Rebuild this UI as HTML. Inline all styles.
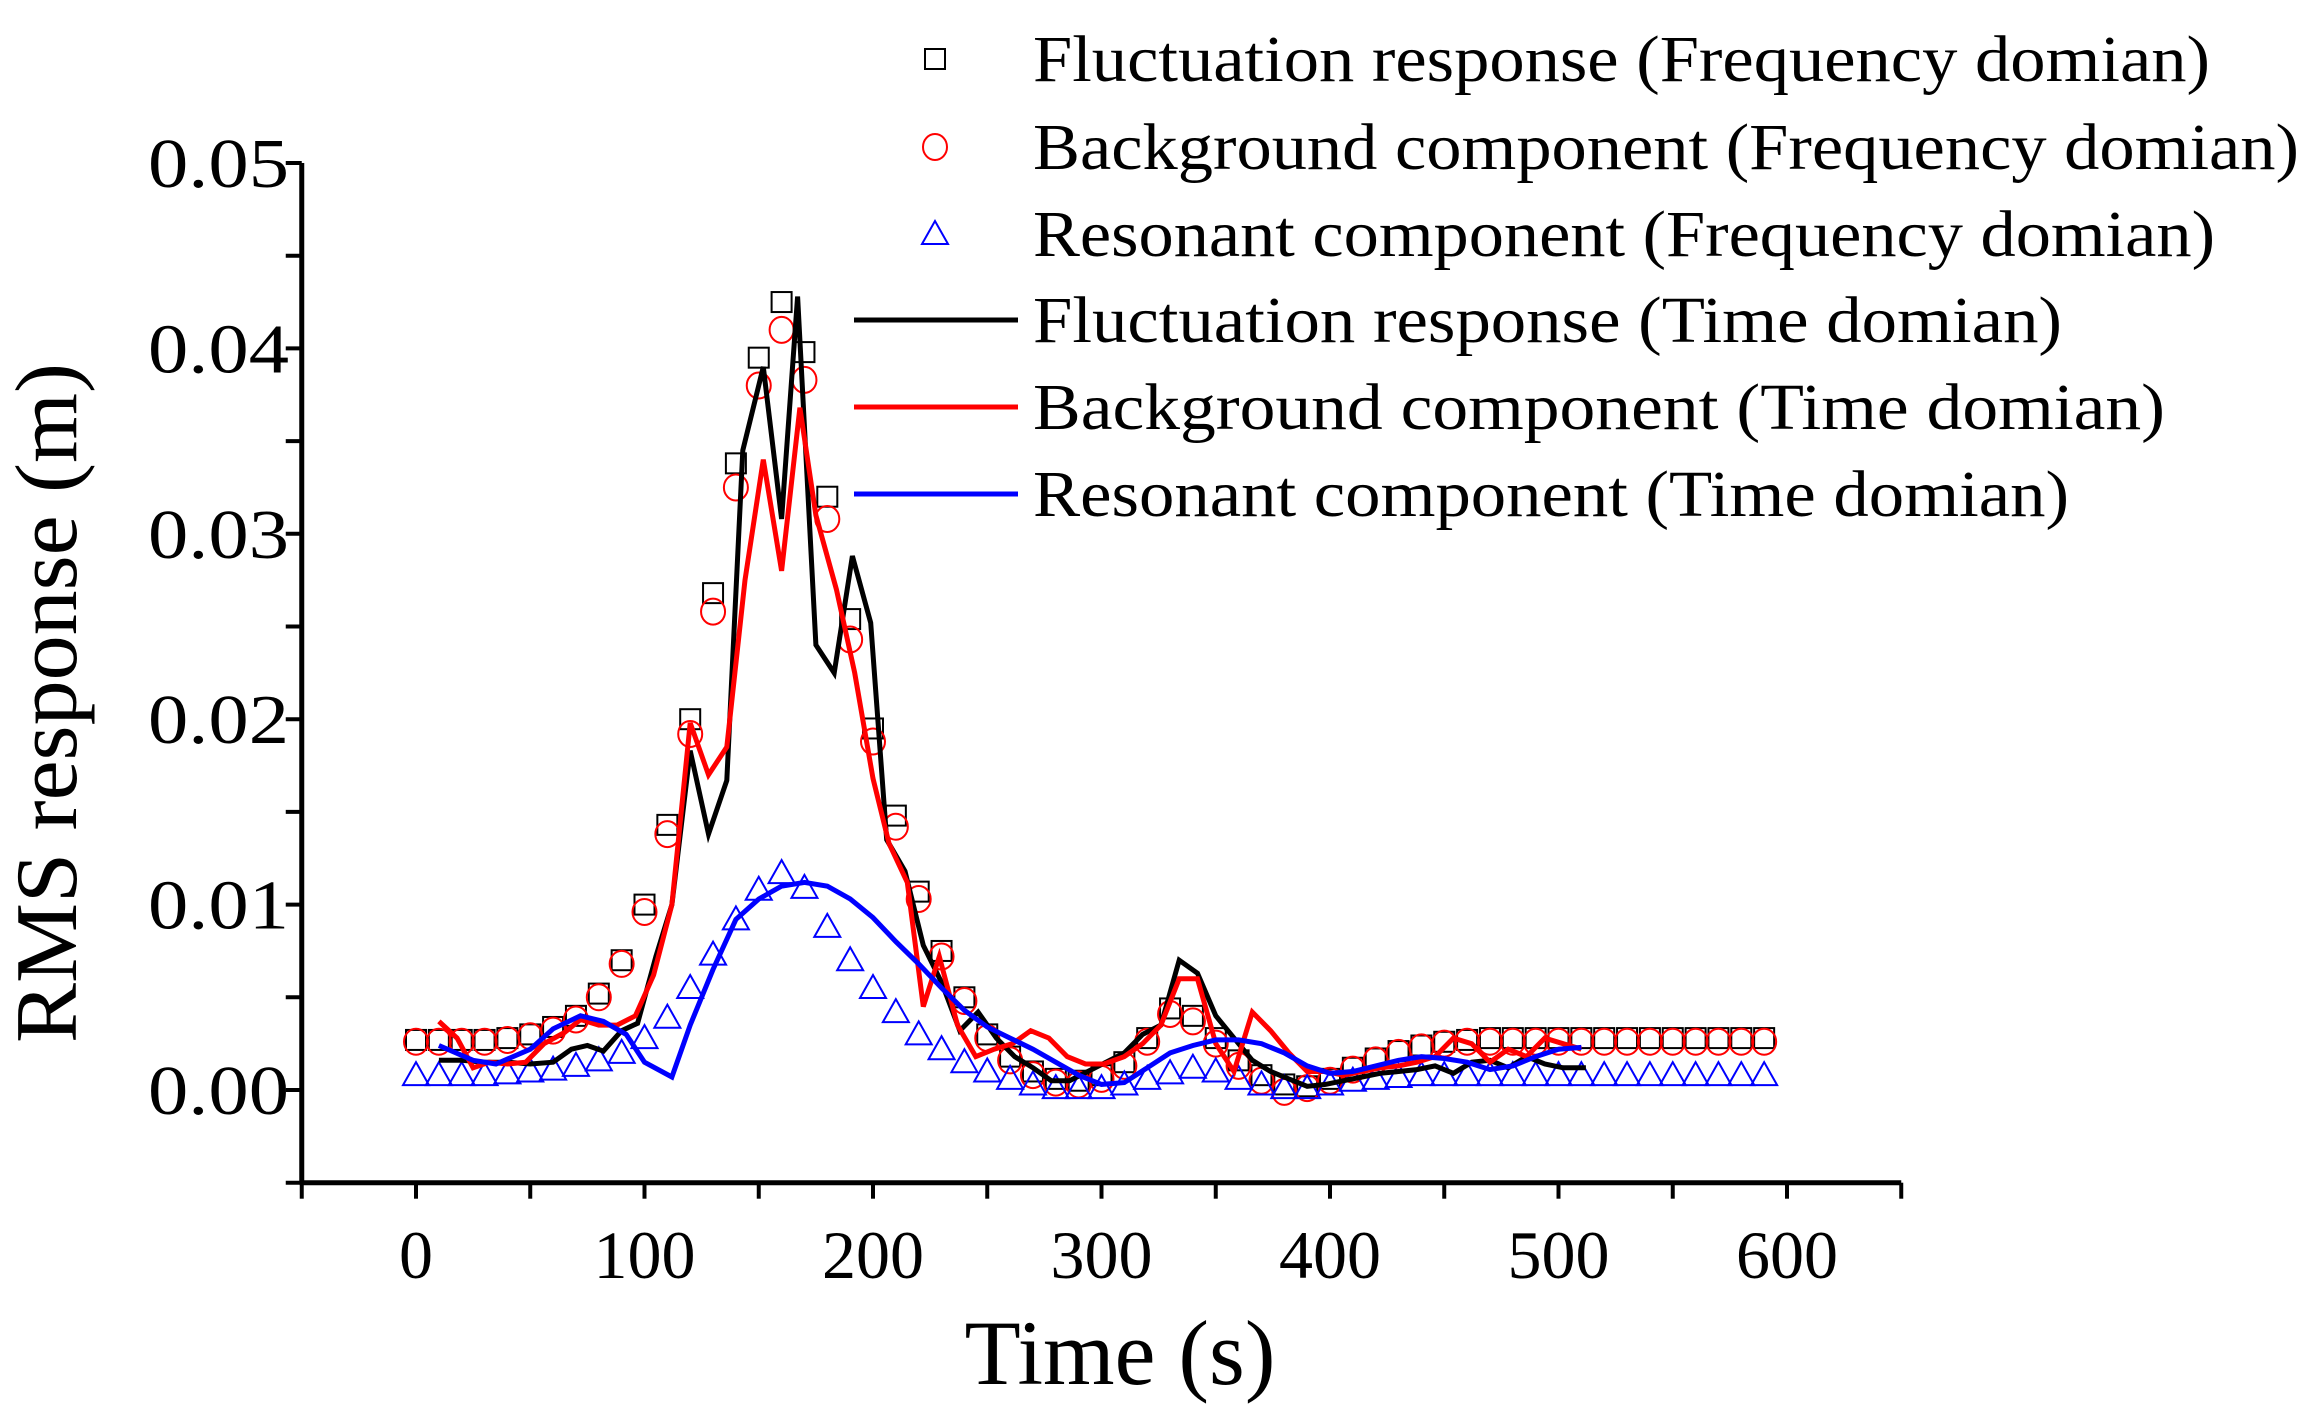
<!DOCTYPE html>
<html><head><meta charset="utf-8"><style>
html,body{margin:0;padding:0;background:#fff}
svg{display:block;font-family:"Liberation Serif",serif}
</style></head><body>
<svg id="chart" width="2313" height="1419" viewBox="0 0 2313 1419">
<g id="axes"></g>
<g id="series"></g>
<g id="legend"></g>
<text x="1120" y="1384" font-size="92" text-anchor="middle">Time (s)</text>
<text transform="translate(76,703) rotate(-90)" font-size="88" text-anchor="middle" textLength="680" lengthAdjust="spacingAndGlyphs">RMS response (m)</text>
</svg>
<script>
const xTicks=[0,100,200,300,400,500,600];
const yTicks=[0,0.01,0.02,0.03,0.04,0.05];
const yTickLabels=["0.00","0.01","0.02","0.03","0.04","0.05"];
const freqTimes=[0,10,20,30,40,50,60,70,80,90,100,110,120,130,140,150,160,170,180,190,200,210,220,230,240,250,260,270,280,290,300,310,320,330,340,350,360,370,380,390,400,410,420,430,440,450,460,470,480,490,500,510,520,530,540,550,560,570,580,590];
const fluctFreq=[.0027,.0027,.0027,.0027,.0028,.003,.0034,.004,.0052,.007,.010,.0143,.020,.0268,.0338,.0395,.0425,.0398,.032,.0254,.0195,.0148,.0107,.0075,.005,.003,.0018,.001,.0006,.0005,.0008,.0015,.0028,.0044,.004,.0028,.0016,.0008,.0003,.0002,.0006,.0012,.0017,.0021,.0024,.0026,.0027,.0028,.0028,.0028,.0028,.0028,.0028,.0028,.0028,.0028,.0028,.0028,.0028,.0028];
const backFreq=[.0026,.0026,.0026,.0026,.0027,.0029,.0032,.0038,.005,.0068,.0096,.0138,.0192,.0258,.0325,.038,.041,.0383,.0308,.0243,.0188,.0142,.0103,.0072,.0048,.0028,.0016,.0008,.0004,.0003,.0006,.0013,.0026,.0041,.0037,.0025,.0013,.0005,-.0001,.0001,.0005,.0011,.0016,.002,.0023,.0025,.0026,.0026,.0026,.0026,.0026,.0026,.0026,.0026,.0026,.0026,.0026,.0026,.0026,.0026];
const resFreq=[.0008,.0008,.0008,.0008,.0009,.001,.0011,.0013,.0016,.002,.0028,.0039,.0055,.0073,.0092,.0108,.0117,.0109,.0088,.007,.0055,.0042,.003,.0022,.0015,.001,.0006,.0003,.0001,.0001,.0001,.0003,.0006,.0009,.0012,.001,.0006,.0003,.0001,.0001,.0003,.0005,.0006,.0007,.0008,.0008,.0008,.0008,.0008,.0008,.0008,.0008,.0008,.0008,.0008,.0008,.0008,.0008,.0008,.0008];
const fluctTimeT=[10,20,30,40,50,60,68,75,82,90,97,105,112,120,128,136,143,152,160,167,175,183,191,199,206,214,222,230,238,246,254,262,270,278,286,294,302,310,318,326,334,342,350,358,366,374,382,390,398,406,414,422,430,438,446,454,462,470,478,486,494,502,512];
const fluctTimeV=[.0016,.0016,.0015,.0015,.0014,.0015,.0022,.0024,.0021,.0032,.0036,.0072,.01,.0183,.0138,.0167,.0345,.039,.0308,.0428,.024,.0225,.0288,.0252,.0135,.0118,.0078,.0058,.0032,.0042,.0028,.0018,.0012,.0005,.0005,.001,.0015,.002,.003,.0035,.007,.0063,.004,.0028,.0016,.001,.0006,.0002,.0003,.0005,.0007,.0009,.001,.0011,.0013,.0009,.0015,.0016,.0012,.0018,.0014,.0012,.0012];
const backTimeT=[10,18,25,32,40,48,56,65,72,80,88,96,104,112,120,128,136,144,152,160,168,175,184,192,200,207,215,222,229,237,245,253,261,269,277,285,293,301,310,318,326,334,342,350,358,366,374,382,390,398,406,414,422,430,438,446,454,462,470,478,486,494,502,510];
const backTimeV=[.0037,.0028,.0012,.0015,.0014,.0015,.0025,.0031,.0038,.0035,.0035,.004,.0062,.01,.0198,.017,.0185,.0275,.034,.028,.0368,.031,.027,.0225,.0168,.0133,.0112,.0045,.0072,.0035,.0018,.0022,.0025,.0032,.0028,.0018,.0014,.0014,.0018,.0025,.0035,.006,.006,.0025,.001,.0042,.0032,.002,.001,.001,.0008,.001,.0012,.0013,.0015,.0018,.0028,.0025,.0015,.0022,.0018,.0028,.0025,.0022];
const resTimeT=[10,25,35,50,60,72,82,92,100,112,120,130,140,150,160,170,180,190,200,210,220,230,240,250,260,270,280,290,300,310,320,330,340,350,360,370,380,390,400,410,420,430,440,450,460,470,480,490,500,510];
const resTimeV=[.0024,.0016,.0014,.0022,.0033,.004,.0037,.003,.0015,.0007,.0035,.0065,.0092,.0103,.011,.0112,.011,.0103,.0093,.008,.0068,.0055,.0043,.0034,.0028,.0022,.0015,.0008,.0003,.0004,.0012,.002,.0024,.0027,.0027,.0025,.002,.0013,.0009,.001,.0013,.0016,.0018,.0017,.0015,.0011,.0013,.0018,.0022,.0023];
const legendLabels=["Fluctuation response (Frequency domian)","Background component (Frequency domian)","Resonant component (Frequency domian)","Fluctuation response (Time domian)","Background component  (Time domian)","Resonant component (Time domian)"];
const legendWidths=[1177,1266,1182,1029,1132,1036];

const NS="http://www.w3.org/2000/svg";
const X0=416,XS=2.285,Y0=1090,YS=18540;
function sx(v){return X0+v*XS;}
function sy(v){return Y0-v*YS;}
function mk(tag,attrs,parent){const e=document.createElementNS(NS,tag);for(const k in attrs)e.setAttribute(k,attrs[k]);parent.appendChild(e);return e;}
const axes=document.getElementById('axes'),series=document.getElementById('series'),legend=document.getElementById('legend');
const xl=sx(-50),xr=sx(650),yb=sy(-0.005),yt=sy(0.05);
let a=mk('line',{x1:xl,y1:yb,x2:xl,y2:yt,stroke:'#000','stroke-width':5},axes);


a=mk('line',{x1:xl-2,y1:yb,x2:xr,y2:yb,stroke:'#000','stroke-width':5},axes);


for(let v=-50;v<=650;v+=50){const t=mk('line',{x1:sx(v),y1:yb,x2:sx(v),y2:yb+16,stroke:'#000','stroke-width':4},axes);

}
for(let i=0;i<=11;i++){const v=-0.005+i*0.005;const t=mk('line',{x1:xl,y1:sy(v),x2:xl-16,y2:sy(v),stroke:'#000','stroke-width':4},axes);

}
xTicks.forEach(v=>{const t=mk('text',{x:sx(v),y:1278,'font-size':68,'text-anchor':'middle'},axes);t.textContent=String(v);

});
yTicks.forEach((v,i)=>{const t=mk('text',{x:289,y:sy(v)+24,'font-size':70,'text-anchor':'end',textLength:141,lengthAdjust:'spacingAndGlyphs'},axes);t.textContent=yTickLabels[i];

});

function sq(x,y,p){return mk('rect',{x:x-10,y:y-10,width:20,height:20,fill:'none',stroke:'#000','stroke-width':2},p);}
function ci(x,y,p){return mk('ellipse',{cx:x,cy:y,rx:12,ry:13,fill:'none',stroke:'#f00','stroke-width':2},p);}
function tr(x,y,p){return mk('polygon',{points:`${x},${y-13} ${x-13},${y+10} ${x+13},${y+10}`,fill:'none',stroke:'#00f','stroke-width':2},p);}
function line(T,V,c,name){const d=T.map((t,i)=>(i?'L':'M')+sx(t).toFixed(1)+','+sy(V[i]).toFixed(1)).join('');
const e=mk('path',{d:d,fill:'none',stroke:c,'stroke-width':5,'stroke-linejoin':'miter'},series);

}
freqTimes.forEach((t,i)=>{const e=sq(sx(t),sy(fluctFreq[i]),series);

});
freqTimes.forEach((t,i)=>{const e=ci(sx(t),sy(backFreq[i]),series);

});
freqTimes.forEach((t,i)=>{const e=tr(sx(t),sy(resFreq[i]),series);

});
line(fluctTimeT,fluctTimeV,'#000','fluctuation-time-line');
line(backTimeT,backTimeV,'#f00','background-time-line');
line(resTimeT,resTimeV,'#00f','resonant-time-line');

const ly=[59,147,234,320,407,494];
legendLabels.forEach((lab,i)=>{const y=ly[i];
if(i===0){const e=sq(935,y,legend);}
if(i===1){const e=ci(935,y,legend);}
if(i===2){const e=tr(935,y,legend);}
if(i>=3){const e=mk('line',{x1:854,y1:y,x2:1018,y2:y,stroke:['#000','#f00','#00f'][i-3],'stroke-width':5},legend);

}
const t=mk('text',{x:1033,y:y+22,'font-size':66,textLength:legendWidths[i],lengthAdjust:'spacingAndGlyphs'},legend);t.textContent=lab;

});
</script>
</body></html>
